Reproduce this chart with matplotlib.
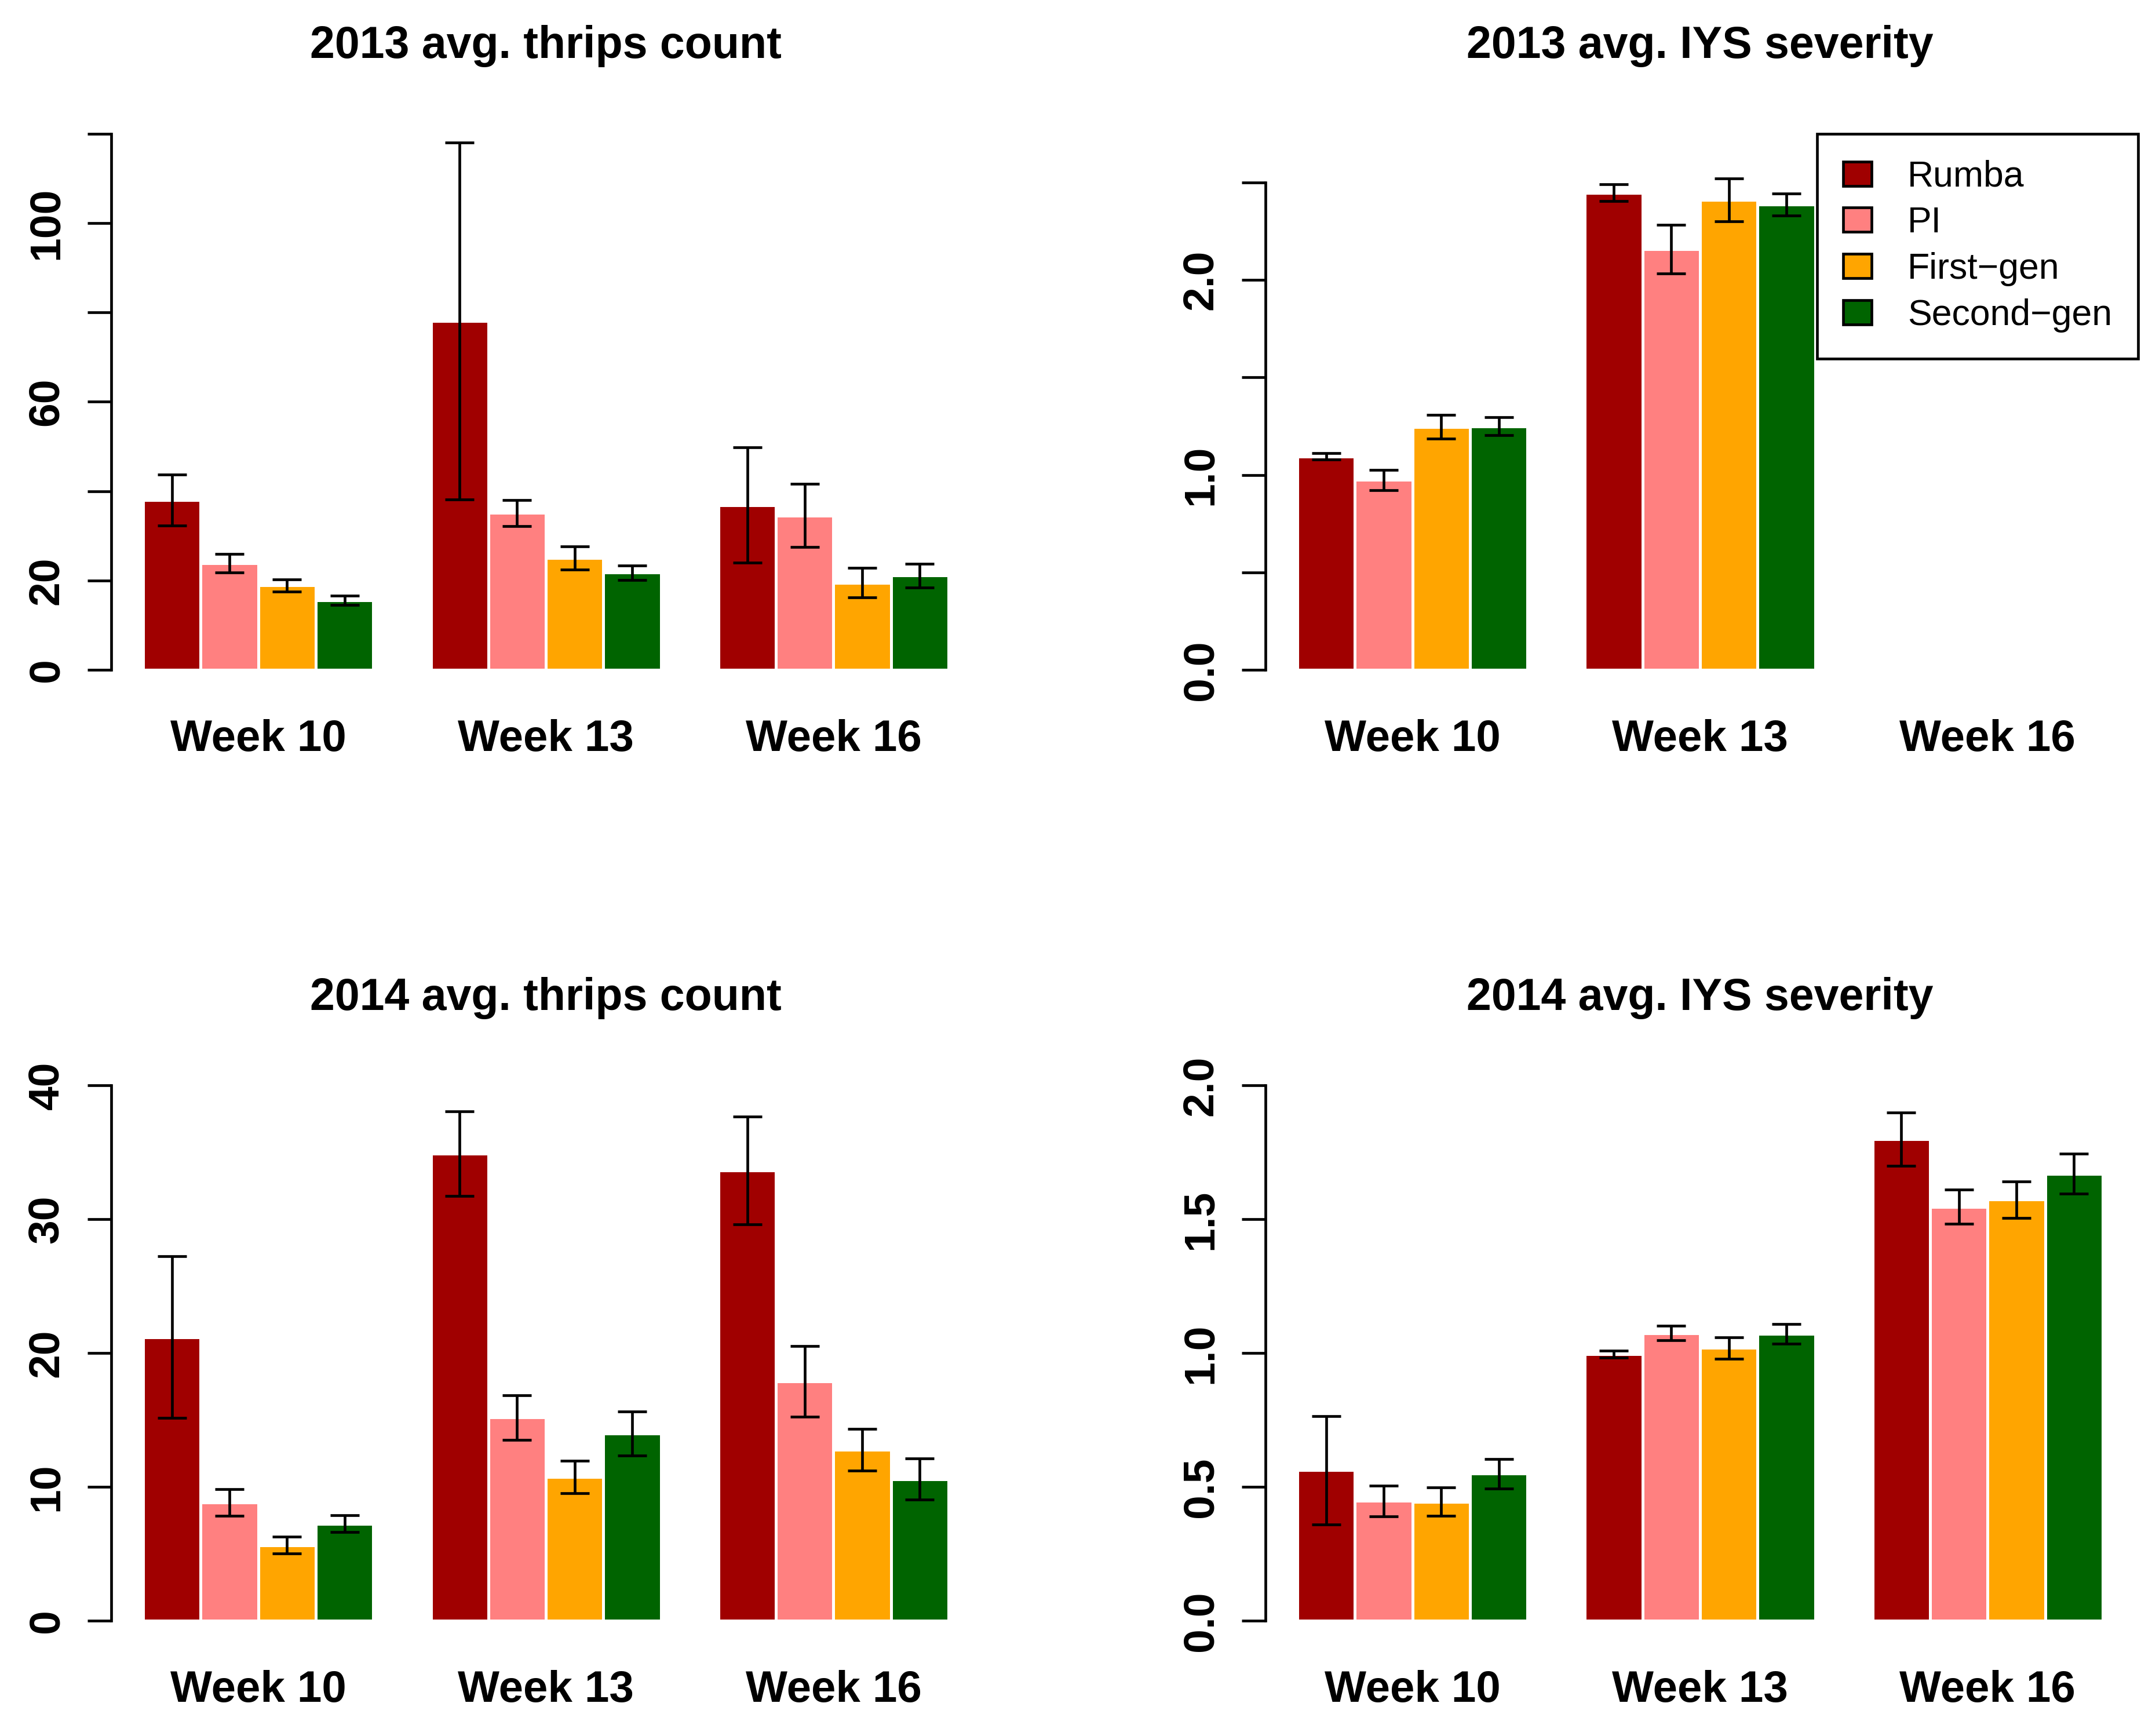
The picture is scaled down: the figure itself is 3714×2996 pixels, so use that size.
import matplotlib
matplotlib.use("Agg")
import matplotlib.pyplot as plt
from matplotlib.patches import Patch
import numpy as np

plt.rcParams['font.family'] = ['Liberation Sans', 'DejaVu Sans']

nan = np.nan

weeks = ["Week 10", "Week 13", "Week 16"]
treatments = ["Rumba", "PI", "First\u2212gen", "Second\u2212gen"]
colors = ["#A00000", "#FF8080", "#FFA500", "#006400"]

# rows = treatments, columns = weeks
thrips2013_mean = [[38.0, 78.1, 36.9], [23.9, 35.1, 34.55], [18.9, 25.0, 19.5], [15.6, 21.75, 21.1]]
thrips2013_se = [[5.7, 39.9, 12.9], [2.1, 2.9, 7.1], [1.4, 2.6, 3.3], [1.05, 1.6, 2.6]]

iys2013_mean = [[1.095, 2.447, nan], [0.975, 2.158, nan], [1.247, 2.41, nan], [1.25, 2.387, nan]]
iys2013_se = [[0.016, 0.044, nan], [0.052, 0.125, nan], [0.06, 0.11, nan], [0.045, 0.057, nan]]

thrips2014_mean = [[21.2, 34.9, 33.64], [8.85, 15.2, 17.9], [5.65, 10.76, 12.8], [7.25, 14.0, 10.6]]
thrips2014_se = [[6.05, 3.17, 4.03], [1.0, 1.67, 2.63], [0.63, 1.22, 1.56], [0.63, 1.63, 1.52]]

iys2014_mean = [[0.563, 0.996, 1.8], [0.448, 1.075, 1.547], [0.445, 1.02, 1.574], [0.55, 1.072, 1.67]]
iys2014_se = [[0.202, 0.013, 0.1], [0.058, 0.027, 0.063], [0.053, 0.04, 0.068], [0.055, 0.037, 0.075]]

titles = ["2013 avg. thrips count", "2013 avg. IYS severity",
          "2014 avg. thrips count", "2014 avg. IYS severity"]

yticks_1 = [0, 20, 40, 60, 80, 100, 120]
ylabels_1 = ["0", "20", "", "60", "", "100", ""]
yticks_2 = [0.0, 0.5, 1.0, 1.5, 2.0, 2.5]
ylabels_2 = ["0.0", "", "1.0", "", "2.0", ""]
yticks_3 = [0, 10, 20, 30, 40]
ylabels_3 = ["0", "10", "20", "30", "40"]
yticks_4 = [0.0, 0.5, 1.0, 1.5, 2.0]
ylabels_4 = ["0.0", "0.5", "1.0", "1.5", "2.0"]

W, H = 3714, 2996
fig = plt.figure(figsize=(W / 300, H / 300), dpi=300)

LW = 1.125
col_left = [191.6 / W, 2183.5 / W]
col_w = 1501.0 / W
row_bottom = [1 - 1156.2 / H, 1 - 2797.4 / H]
row_h = [925.5 / H, 924.1 / H]

panels = [
    (thrips2013_mean, thrips2013_se, (0, 120), yticks_1, ylabels_1, 0, 0),
    (iys2013_mean, iys2013_se, (0, 2.75), yticks_2, ylabels_2, 0, 1),
    (thrips2014_mean, thrips2014_se, (0, 40), yticks_3, ylabels_3, 1, 0),
    (iys2014_mean, iys2014_se, (0, 2.0), yticks_4, ylabels_4, 1, 1),
]

axes = []
for k, (mean, se, ylim, yt, yl, r, c) in enumerate(panels):
    ax = fig.add_axes([col_left[c], row_bottom[r], col_w, row_h[r]])
    axes.append(ax)
    ng = len(weeks)
    nt = len(treatments)
    for j in range(nt):
        xs = [1.5 + (nt + 1) * g + j for g in range(ng)]
        ax.bar(xs, mean[j], width=1.0, color=colors[j], edgecolor='white',
               linewidth=1.2, zorder=2)
        ax.errorbar(xs, mean[j], yerr=se[j], fmt='none', ecolor='black',
                    elinewidth=LW, capsize=6.1, capthick=LW, zorder=3)
    ax.set_xlim(0.44, 15.56)
    ax.set_ylim(*ylim)
    for s in ['top', 'right', 'bottom']:
        ax.spines[s].set_visible(False)
    ax.spines['left'].set_linewidth(LW)
    ax.spines['left'].set_bounds(yt[0], yt[-1])
    ax.set_yticks(yt, labels=yl, rotation=90, va='center', fontweight='bold', fontsize=18)
    ax.tick_params(axis='y', length=9.84, width=LW, pad=8.5)
    centers = [1 + (nt + 1) * g + nt / 2 for g in range(ng)]
    ax.set_xticks(centers, labels=weeks, fontweight='bold', fontsize=18.3)
    ax.tick_params(axis='x', length=0, pad=20.3)
    ax.text(0.5, 1.1412, titles[k], transform=ax.transAxes, ha='center',
            va='baseline', fontsize=18.5, fontweight='bold')
    ax.set_facecolor('none')

handles = [Patch(facecolor=colors[j], edgecolor='black', linewidth=LW) for j in range(len(treatments))]
leg = axes[1].legend(handles, treatments, loc='upper right', bbox_to_anchor=(1.0037, 1.0),
                     borderaxespad=0, frameon=True, fancybox=False, framealpha=1,
                     edgecolor='black', fontsize=15, handlelength=0.77, handleheight=0.66,
                     handletextpad=1.0, labelspacing=0.33, borderpad=0.72)
leg.get_frame().set_linewidth(LW)

fig.savefig('out.png', dpi=300, facecolor='white')
